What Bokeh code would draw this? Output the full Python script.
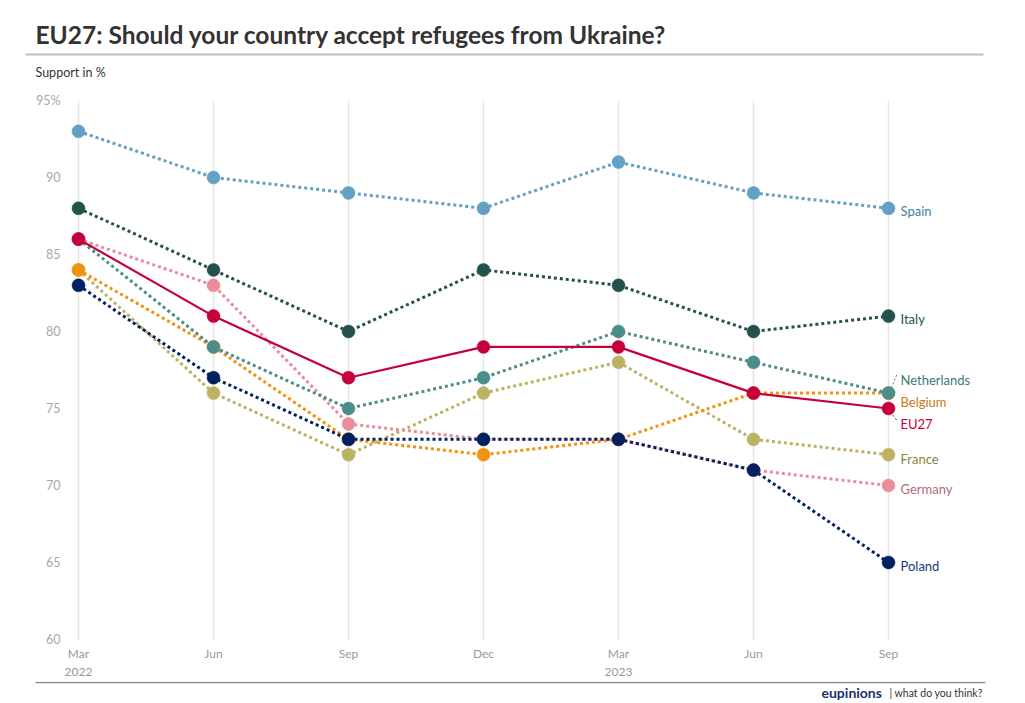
from bokeh.plotting import figure
from bokeh.layouts import column
from bokeh.models import Range1d, FixedTicker, ColumnDataSource
from bokeh.core.properties import value
from bokeh.embed import file_html
from bokeh.resources import INLINE

# ---------------- data ----------------
periods = ["Mar\n2022", "Jun", "Sep", "Dec", "Mar\n2023", "Jun", "Sep"]
y_ticks = [60, 65, 70, 75, 80, 85, 90, 95]

spain       = [93, 90, 89, 88, 91, 89, 88]
italy       = [88, 84, 80, 84, 83, 80, 81]
netherlands = [86, 79, 75, 77, 80, 78, 76]
belgium     = [84, 79, 73, 72, 73, 76, 76]
eu27        = [86, 81, 77, 79, 79, 76, 75]
france      = [84, 76, 72, 76, 78, 73, 72]
germany     = [86, 83, 74, 73, 73, 71, 70]
poland      = [83, 77, 73, 73, 73, 71, 65]

# drawing order bottom -> top
series = [
    ("France", france),
    ("Belgium", belgium),
    ("Germany", germany),
    ("Netherlands", netherlands),
    ("Spain", spain),
    ("Italy", italy),
    ("Poland", poland),
    ("EU27", eu27),
]

title_text = "EU27: Should your country accept refugees from Ukraine?"
subtitle_text = "Support in %"
brand_text = "eupinions"
tagline_text = "| what do you think?"

# ---------------- styles ----------------
line_colors = {
    "Spain": "#62a0c4", "Italy": "#23524c", "Netherlands": "#4b8d8b",
    "Belgium": "#f39110", "EU27": "#c6003b", "France": "#bdb264",
    "Germany": "#eb8c9c", "Poland": "#00205f",
}
label_colors = {
    "Spain": "#3f7fa6", "Italy": "#23524c", "Netherlands": "#3a7a78",
    "Belgium": "#c87717", "EU27": "#c6003b", "France": "#8a843e",
    "Germany": "#b86878", "Poland": "#16367e",
}
label_dy = {  # pixel shift of end labels (positive = down)
    "Spain": 3, "Italy": 3, "Netherlands": -13, "Belgium": 9,
    "EU27": 15, "France": 4, "Germany": 3, "Poland": 3,
}

FONT = "Lato"
W = 1017
HEAD_H, MAIN_H, FOOT_H = 88, 593, 20
MAIN_TOP = HEAD_H            # page y where the main chart starts
FRAME_TOP, FRAME_BOTTOM = 100, 641

# page-pixel -> data helpers for the main chart
PXX = 135.0
PXY = 540.0 / 35.0
def dx(page_x):
    return (page_x - 78) / PXX
def dy(page_y):
    return 95 - (page_y - 100) / PXY


def blank(h, y0, y1):
    f = figure(width=W, height=h, output_backend="svg", toolbar_location=None,
               x_range=Range1d(0, W), y_range=Range1d(y1, y0),
               x_axis_type=None, y_axis_type=None,
               min_border=0, min_border_left=0, min_border_right=0,
               min_border_top=0, min_border_bottom=0,
               background_fill_color="white", border_fill_color="white",
               frame_align=False)
    f.outline_line_color = None
    f.xgrid.visible = False
    f.ygrid.visible = False
    return f

# ---------------- header ----------------
head = blank(HEAD_H, 0, HEAD_H)
head.text(x=[35], y=[34], text=[title_text], text_font=value(FONT),
          text_font_size="24.5px", text_font_style="bold", text_color="#333333",
          text_baseline="middle")
head.segment(x0=[25], y0=[54], x1=[983], y1=[54], line_color="#bdbdbd", line_width=2)
head.text(x=[35], y=[72], text=[subtitle_text], text_font=value(FONT),
          text_font_size="12.5px", text_color="#333333", text_baseline="middle")

# ---------------- main chart ----------------
p = figure(
    width=W, height=MAIN_H, output_backend="svg", toolbar_location=None,
    x_range=Range1d(dx(66), dx(985)), y_range=Range1d(dy(FRAME_BOTTOM), 95),
    min_border_left=66, min_border_right=W - 985,
    min_border_top=FRAME_TOP - MAIN_TOP,
    min_border_bottom=MAIN_TOP + MAIN_H - FRAME_BOTTOM,
    background_fill_color="white", border_fill_color="white",
    frame_align=False,
)
p.outline_line_color = None

p.yaxis.ticker = FixedTicker(ticks=y_ticks)
p.yaxis.major_label_overrides = {95: "95%"}
p.yaxis.axis_line_color = None
p.yaxis.major_tick_line_color = None
p.yaxis.minor_tick_line_color = None
p.yaxis.major_tick_out = 0
p.yaxis.major_tick_in = 0
p.yaxis.minor_tick_out = 0
p.yaxis.major_label_standoff = 6
p.yaxis.major_label_text_color = "#a8a8a8"
p.yaxis.major_label_text_font = FONT
p.yaxis.major_label_text_font_size = "12.5px"

p.xaxis.ticker = FixedTicker(ticks=list(range(len(periods))))
p.xaxis.major_label_overrides = {i: s for i, s in enumerate(periods)}
p.xaxis.axis_line_color = None
p.xaxis.major_tick_line_color = None
p.xaxis.minor_tick_line_color = None
p.xaxis.major_tick_out = 0
p.xaxis.major_tick_in = 0
p.xaxis.minor_tick_out = 0
p.xaxis.major_label_standoff = 5
p.xaxis.major_label_text_color = "#999999"
p.xaxis.major_label_text_font = FONT
p.xaxis.major_label_text_font_size = "12px"

p.ygrid.grid_line_color = None
p.xgrid.grid_line_color = "#e6e6e6"
p.xgrid.grid_line_width = 1.5

xs = list(range(len(periods)))
for name, vals in series:
    c = line_colors[name]
    if name == "EU27":
        p.line(xs, vals, line_color=c, line_width=2.2)
    else:
        p.line(xs, vals, line_color=c, line_width=3, line_dash="3 3")
    p.scatter(xs, vals, size=13, fill_color=c, line_color=c, line_width=0.5)

names = [n for n, _ in series]
src = ColumnDataSource(dict(
    x=[xs[-1]] * len(series),
    y=[v[-1] for _, v in series],
    text=names,
    color=[label_colors[n] for n in names],
    yo=[label_dy[n] for n in names],
))
p.text(x="x", y="y", text="text", source=src, text_color="color",
       x_offset=12, y_offset="yo", text_baseline="middle", text_align="left",
       text_font=value(FONT), text_font_size="13px")

# small leader lines for shifted labels
p.segment(x0=[dx(891), dx(890)], y0=[dy(388), dy(412)],
          x1=[dx(897), dx(896)], y1=[dy(373), dy(420)],
          line_color=[line_colors["Netherlands"], line_colors["EU27"]],
          line_width=1, line_dash="2 2")

# ---------------- footer ----------------
y_top = HEAD_H + MAIN_H
foot = blank(FOOT_H, y_top, y_top + FOOT_H)
foot.segment(x0=[35], y0=[682], x1=[985], y1=[682], line_color="#8a8a8a", line_width=1.5)
foot.text(x=[821], y=[692], text=[brand_text], text_font=value(FONT),
          text_font_size="14px", text_font_style="bold", text_color="#1b2f6e",
          text_baseline="middle")
foot.text(x=[889], y=[692], text=[tagline_text], text_font=value(FONT),
          text_font_size="10.5px", text_color="#333333", text_baseline="middle")

layout = column(head, p, foot, spacing=0)
open("out.html", "w").write(file_html(layout, INLINE))
